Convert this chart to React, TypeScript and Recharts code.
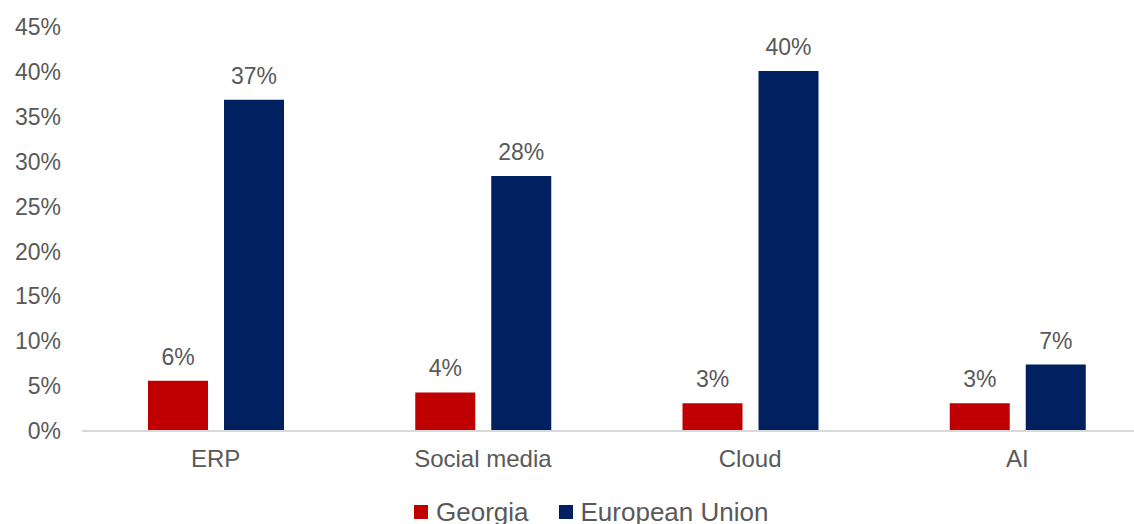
import React from 'react';
import { BarChart, Bar, XAxis, YAxis, Legend, LabelList } from 'recharts';

const categories = ['ERP', 'Social media', 'Cloud', 'AI'];
const georgia = [5.6, 4.3, 3.1, 3.1];
const europeanUnion = [36.9, 28.4, 40.1, 7.4];
const yTicks = [0, 5, 10, 15, 20, 25, 30, 35, 40, 45];

const RED = '#C00000';
const NAVY = '#002060';
const TEXT = '#595959';
const FONT = '"Liberation Sans", Arial, sans-serif';

const data = categories.map((name, i) => ({
  name,
  georgia: georgia[i],
  eu: europeanUnion[i],
}));

const legendItems = [
  { label: 'Georgia', color: RED },
  { label: 'European Union', color: NAVY },
];

// legend drawn by hand so the swatches sit like the Excel ones
const renderLegend = () => (
  <div style={{ display: 'flex', justifyContent: 'flex-start', alignItems: 'center', gap: '30px', paddingLeft: 414, fontFamily: FONT }}>
    {legendItems.map((item) => (
      <div key={item.label} style={{ display: 'flex', alignItems: 'center', gap: '8px' }}>
        <div style={{ width: 14, height: 14, backgroundColor: item.color }} />
        <span style={{ fontSize: 26, color: TEXT, lineHeight: '30px' }}>{item.label}</span>
      </div>
    ))}
  </div>
);

export default function App() {
  return (
    <div style={{
      position: 'absolute',
      left: 0,
      top: 0,
      width: 1134,
      height: 524,
      overflow: 'hidden',
      background: '#ffffff',
    }}>
      <BarChart
        width={1151}
        height={545}
        data={data}
        margin={{ top: 27, right: 0, left: 0, bottom: 0 }}
        barSize={60}
        barGap={16}
      >
        <XAxis
          dataKey="name"
          height={50}
          tickLine={false}
          tickSize={0}
          tickMargin={19}
          axisLine={{ stroke: '#d9d9d9', strokeWidth: 2 }}
          tick={{ fill: TEXT, fontSize: 24, fontFamily: FONT }}
        />
        <YAxis
          width={82}
          domain={[0, 45]}
          ticks={yTicks}
          interval={0}
          axisLine={false}
          tickLine={false}
          tickSize={0}
          tickMargin={21}
          tickFormatter={(v) => `${v}%`}
          tick={{ fill: TEXT, fontSize: 23, fontFamily: FONT }}
        />
        <Legend
          verticalAlign="bottom"
          height={64}
          content={renderLegend}
          wrapperStyle={{ left: 0, width: 1134, top: 497, bottom: 'auto' }}
        />
        <Bar dataKey="georgia" name="Georgia" fill={RED} isAnimationActive={false}>
          <LabelList
            dataKey="georgia"
            position="top"
            offset={16}
            formatter={(v: number) => `${Math.round(v)}%`}
            style={{ fill: TEXT, fontSize: 23, fontFamily: FONT }}
          />
        </Bar>
        <Bar dataKey="eu" name="European Union" fill={NAVY} isAnimationActive={false}>
          <LabelList
            dataKey="eu"
            position="top"
            offset={16}
            formatter={(v: number) => `${Math.round(v)}%`}
            style={{ fill: TEXT, fontSize: 23, fontFamily: FONT }}
          />
        </Bar>
      </BarChart>
    </div>
  );
}
